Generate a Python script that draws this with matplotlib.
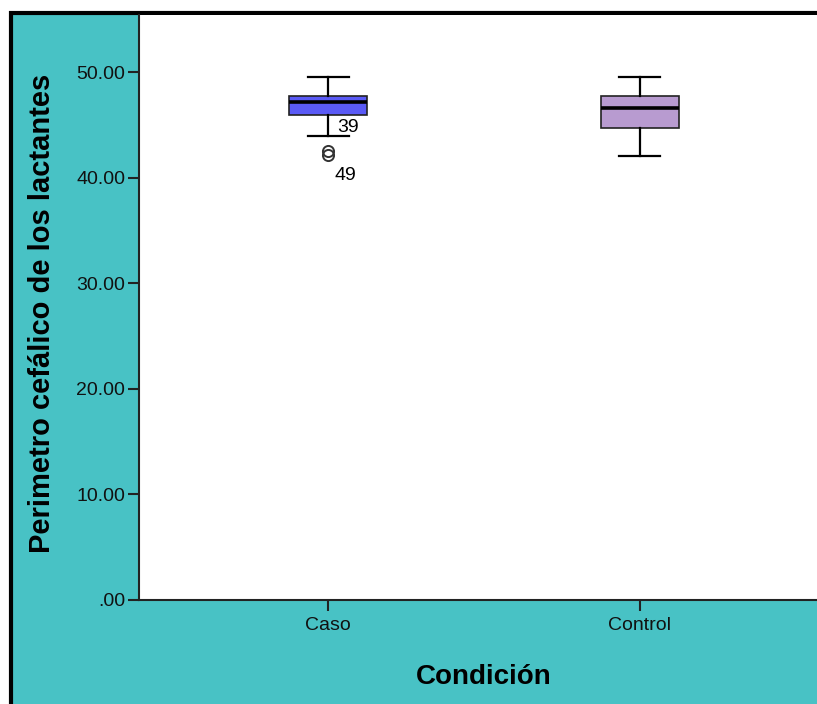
import numpy as np
import matplotlib
matplotlib.use("Agg")
from matplotlib import pyplot as plt
from matplotlib.patches import Rectangle
from matplotlib.ticker import FuncFormatter

plt.rcParams['font.family'] = ['Liberation Sans', 'DejaVu Sans']

# box statistics
groups = ['Caso', 'Control']
whis_low = [43.9, 42.0]
q1 = [45.9, 44.7]
median = [47.2, 46.55]
q3 = [47.7, 47.7]
whis_high = [49.5, 49.5]
outliers = [[42.5, 42.15], []]
outlier_ids = [['39', '49'], []]
box_colors = ['#5A5AF6', '#B89BD0']
teal = '#48C2C5'

fig = plt.figure(figsize=(8.17, 7.04), dpi=100)
fig.patch.set_facecolor('white')

# teal panel with black frame (chart is cut off to the right and bottom)
W, H = 817, 704
frame = Rectangle((11 / W, -0.05), 1.2, 1 - 13 / H + 0.05, transform=fig.transFigure,
                  facecolor=teal, edgecolor='black', linewidth=3, zorder=-5)
fig.patches.append(frame)

ax = fig.add_axes([139 / W, 104 / H, 690 / W, 585 / H])
ax.set_zorder(2)
ax.set_facecolor('white')

stats = []
for i, g in enumerate(groups):
    stats.append(dict(label=g, whislo=whis_low[i], q1=q1[i], med=median[i],
                      q3=q3[i], whishi=whis_high[i], fliers=outliers[i]))

bp = ax.bxp(stats, positions=[1, 2], widths=0.25, patch_artist=True,
            showfliers=True,
            boxprops=dict(edgecolor='#222222', linewidth=1.2),
            medianprops=dict(color='black', linewidth=2.6),
            whiskerprops=dict(color='black', linewidth=1.6),
            capprops=dict(color='black', linewidth=1.6),
            flierprops=dict(marker='o', markersize=8, markerfacecolor='none',
                            markeredgecolor='#333333', markeredgewidth=1.4))
for cap in bp['caps']:
    xd = cap.get_xdata()
    c = xd.mean()
    cap.set_xdata([c - 0.065, c + 0.065])
for patch, col in zip(bp['boxes'], box_colors):
    patch.set_facecolor(col)

# outlier case labels
ax.text(1.029, 44.7, outlier_ids[0][0], fontsize=14, ha='left', va='center')
ax.text(1.019, 40.2, outlier_ids[0][1], fontsize=14, ha='left', va='center')

ax.set_xlim(0.392, 2.608)
ax.set_ylim(0, 55.4)
ax.set_yticks([0, 10, 20, 30, 40, 50])
ax.yaxis.set_major_formatter(FuncFormatter(
    lambda v, p: '.00' if v == 0 else '%.2f' % v))
ax.set_xticks([1, 2])
ax.set_xticklabels(groups)

for s in ['top', 'right']:
    ax.spines[s].set_visible(False)
for s in ['left', 'bottom']:
    ax.spines[s].set_linewidth(1.5)
    ax.spines[s].set_color('#222222')

ax.tick_params(axis='both', labelsize=14, length=8, width=1.5, color='#222222',
               labelcolor='#111111')
ax.tick_params(axis='y', pad=2)
ax.tick_params(axis='x', pad=4)

ax.set_xlabel('Condición', fontsize=20, fontweight='bold')
ax.set_ylabel('Perimetro cefálico de los lactantes', fontsize=21, fontweight='bold')
ax.xaxis.set_label_coords(0.5, -0.11)
ax.yaxis.set_label_coords(-0.12, 0.49)

fig.savefig('out.png', dpi=100)
